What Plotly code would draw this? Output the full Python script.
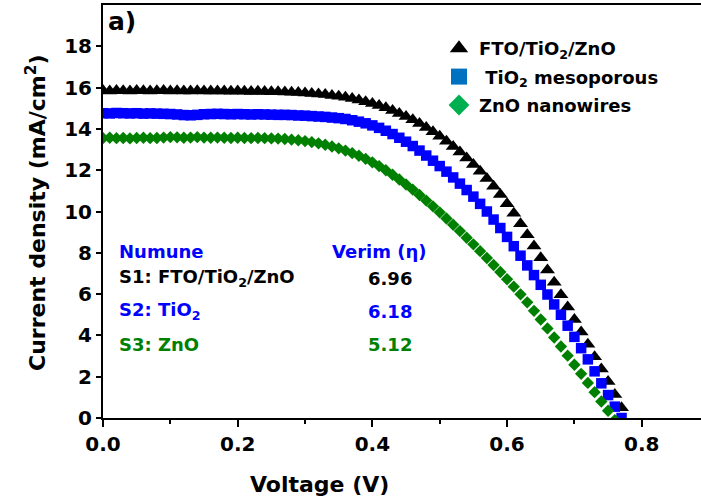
import plotly.graph_objects as go

# ---- data -------------------------------------------------------------
voltage = [0.00, 0.01, 0.02, 0.03, 0.04, 0.05, 0.06, 0.07, 0.08, 0.09,
           0.10, 0.11, 0.12, 0.13, 0.14, 0.15, 0.16, 0.17, 0.18, 0.19,
           0.20, 0.21, 0.22, 0.23, 0.24, 0.25, 0.26, 0.27, 0.28, 0.29,
           0.30, 0.31, 0.32, 0.33, 0.34, 0.35, 0.36, 0.37, 0.38, 0.39,
           0.40, 0.41, 0.42, 0.43, 0.44, 0.45, 0.46, 0.47, 0.48, 0.49,
           0.50, 0.51, 0.52, 0.53, 0.54, 0.55, 0.56, 0.57, 0.58, 0.59,
           0.60, 0.61, 0.62, 0.63, 0.64, 0.65, 0.66, 0.67, 0.68, 0.69,
           0.70, 0.71, 0.72, 0.73, 0.74, 0.75, 0.76, 0.77, 0.78]

# S1: FTO/TiO2/ZnO
j_fto = [15.86, 15.84, 15.86, 15.85, 15.84, 15.86, 15.85, 15.84, 15.85, 15.86,
         15.84, 15.85, 15.84, 15.83, 15.85, 15.84, 15.83, 15.84, 15.83, 15.82,
         15.83, 15.82, 15.81, 15.82, 15.81, 15.80, 15.80, 15.79, 15.78, 15.76,
         15.74, 15.72, 15.69, 15.66, 15.62, 15.58, 15.53, 15.47, 15.40, 15.32,
         15.23, 15.13, 15.02, 14.89, 14.75, 14.60, 14.44, 14.26, 14.07, 13.86,
         13.64, 13.40, 13.15, 12.88, 12.59, 12.28, 11.95, 11.60, 11.22, 10.82,
         10.38, 9.91, 9.41, 8.88, 8.33, 7.76, 7.17, 6.57, 5.97, 5.37,
         4.77, 4.17, 3.57, 2.97, 2.37, 1.77, 1.14, 0.50]

# S2: TiO2 mesoporous
j_tio2 = [14.76, 14.75, 14.77, 14.76, 14.75, 14.76, 14.74, 14.75, 14.74, 14.73,
          14.72, 14.70, 14.67, 14.66, 14.68, 14.71, 14.72, 14.73, 14.72, 14.71,
          14.72, 14.71, 14.70, 14.71, 14.70, 14.69, 14.68, 14.68, 14.67, 14.65,
          14.64, 14.62, 14.60, 14.58, 14.55, 14.52, 14.48, 14.42, 14.35, 14.27,
          14.17, 14.05, 13.91, 13.75, 13.57, 13.38, 13.17, 12.95, 12.71, 12.46,
          12.20, 11.93, 11.65, 11.35, 11.04, 10.72, 10.37, 10.00, 9.61, 9.20,
          8.77, 8.32, 7.86, 7.39, 6.92, 6.45, 5.98, 5.50, 5.00, 4.47,
          3.93, 3.38, 2.84, 2.26, 1.68, 1.11, 0.55, 0.00]

# S3: ZnO nanowires
j_zno = [13.55, 13.57, 13.55, 13.56, 13.54, 13.56, 13.57, 13.55, 13.56, 13.58,
         13.60, 13.59, 13.57, 13.58, 13.60, 13.58, 13.57, 13.58, 13.57, 13.56,
         13.57, 13.56, 13.55, 13.56, 13.55, 13.54, 13.53, 13.51, 13.48, 13.45,
         13.41, 13.36, 13.30, 13.23, 13.15, 13.06, 12.95, 12.83, 12.70, 12.55,
         12.38, 12.20, 12.00, 11.78, 11.55, 11.31, 11.06, 10.80, 10.53, 10.25,
         9.96, 9.66, 9.36, 9.05, 8.73, 8.41, 8.08, 7.75, 7.41, 7.07,
         6.72, 6.36, 5.99, 5.60, 5.19, 4.77, 4.34, 3.90, 3.46, 3.02,
         2.58, 2.14, 1.70, 1.25, 0.80, 0.35, -0.10]

legend_names = ["FTO/TiO<sub>2</sub>/ZnO",
                "\u00a0TiO<sub>2</sub> mesoporous",
                "ZnO nanowires"]
sample_labels = ["S1: FTO/TiO<sub>2</sub>/ZnO", "S2: TiO<sub>2</sub>", "S3: ZnO"]
efficiencies = [6.96, 6.18, 5.12]

y_ticks = [0, 2, 4, 6, 8, 10, 12, 14, 16, 18]
x_ticks = [0.0, 0.2, 0.4, 0.6, 0.8]

# ---- styling ----------------------------------------------------------
FONT = "DejaVu Sans"
W, H = 701, 503
L, R, T, B = 103, 0, 5, 85
PW, PH = W - L - R, H - T - B
X_RANGE = [0, 0.888]
Y_RANGE = [0, 20.0]

line_colors = ["#000000", "#0000FF", "#008000"]
key_colors = ["#000000", "#0070C0", "#00B050"]
symbols = ["triangle-up", "square", "diamond"]
sizes = [13, 10.5, 9.5]


def px(x):
    return (x - L) / PW


def py(y):
    return (H - B - y) / PH


fig = go.Figure()

series = [j_fto, j_tio2, j_zno]
for j, col, sym, sz in zip(series, line_colors, symbols, sizes):
    fig.add_trace(go.Scatter(
        x=voltage[:len(j)], y=j, mode="markers", showlegend=False,
        marker=dict(symbol=sym, size=sz, color=col, line=dict(width=0)),
        cliponaxis=True,
    ))

# legend keys
for i, (name, col, sym) in enumerate(zip(legend_names, key_colors, symbols)):
    fig.add_trace(go.Scatter(
        x=[None], y=[None], mode="markers", name=name,
        legendgroup=str(i),
        marker=dict(symbol=sym, size=16, color=col, line=dict(width=0)),
    ))

fig.update_layout(
    width=W, height=H,
    margin=dict(l=L, r=R, t=T, b=B, pad=0),
    paper_bgcolor="white", plot_bgcolor="white",
    font=dict(family=FONT, color="black"),
    showlegend=True,
    legend=dict(
        x=px(439), y=py(30), xanchor="left", yanchor="top",
        bgcolor="rgba(0,0,0,0)", borderwidth=0,
        font=dict(family=FONT, size=18, color="black", weight="bold"),
        tracegroupgap=2, itemsizing="trace",
    ),
    xaxis=dict(
        range=X_RANGE, showgrid=False, zeroline=False,
        showline=True, linecolor="black", linewidth=2, mirror=True,
        tickmode="array", tickvals=x_ticks,
        ticktext=["%.1f" % v for v in x_ticks],
        ticks="outside", ticklen=7, tickwidth=1.5, tickcolor="black",
        minor=dict(tickmode="array", tickvals=[0.1, 0.3, 0.5, 0.7],
                   ticks="outside", ticklen=4, tickwidth=1.5, tickcolor="black"),
        tickfont=dict(family=FONT, size=20, color="black", weight="bold"),
    ),
    yaxis=dict(
        range=Y_RANGE, showgrid=False, zeroline=False,
        showline=True, linecolor="black", linewidth=2, mirror=False,
        tickmode="array", tickvals=y_ticks,
        ticks="outside", ticklen=5, tickwidth=1.5, tickcolor="black",
        tickfont=dict(family=FONT, size=20, color="black", weight="bold"),
    ),
)

ann = []
# axis titles
ann.append(dict(text="Voltage (V)", x=px(319), y=py(485), xref="paper", yref="paper",
                xanchor="center", yanchor="middle", showarrow=False,
                font=dict(family=FONT, size=22, color="black", weight="bold")))
ann.append(dict(text="Current density (mA/cm<sup>2</sup>)", x=px(36), y=py(213),
                xref="paper", yref="paper", textangle=-90,
                xanchor="center", yanchor="middle", showarrow=False,
                font=dict(family=FONT, size=22, color="black", weight="bold")))
# panel label
ann.append(dict(text="a)", x=px(106), y=py(22), xref="paper", yref="paper",
                xanchor="left", yanchor="middle", showarrow=False,
                font=dict(family=FONT, size=25, color="black", weight="bold")))

# efficiency table
txt_font = lambda c: dict(family=FONT, size=18, color=c, weight="bold")
ann.append(dict(text="Numune", x=px(117), y=py(251), xref="paper", yref="paper",
                xanchor="left", yanchor="middle", showarrow=False,
                font=txt_font("#0000FF")))
ann.append(dict(text="Verim (\u03b7)", x=px(330), y=py(251), xref="paper", yref="paper",
                xanchor="left", yanchor="middle", showarrow=False,
                font=txt_font("#0000FF")))
row_y = [278, 311, 344]
row_colors = ["#000000", "#0000FF", "#008000"]
for lab, eff, yy, col in zip(sample_labels, efficiencies, row_y, row_colors):
    ann.append(dict(text=lab, x=px(117), y=py(yy), xref="paper", yref="paper",
                    xanchor="left", yanchor="middle", showarrow=False,
                    font=txt_font(col)))
    ann.append(dict(text="%.2f" % eff, x=px(414), y=py(yy), xref="paper", yref="paper",
                    xanchor="right", yanchor="middle", showarrow=False,
                    font=txt_font(col)))

fig.update_layout(annotations=ann)

fig.write_html("out.html")
